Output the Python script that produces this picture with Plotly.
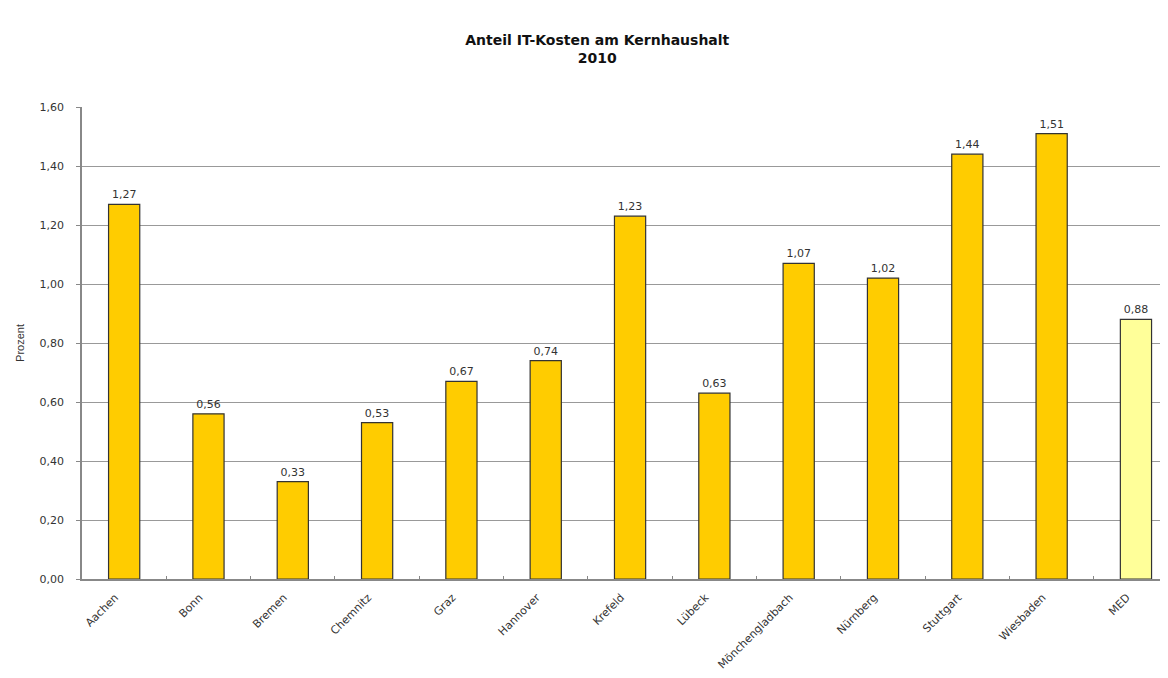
import plotly.graph_objects as go

categories = ["Aachen", "Bonn", "Bremen", "Chemnitz", "Graz", "Hannover", "Krefeld",
              "Lübeck", "Mönchengladbach", "Nürnberg", "Stuttgart", "Wiesbaden", "MED"]
values = [1.27, 0.56, 0.33, 0.53, 0.67, 0.74, 1.23, 0.63, 1.07, 1.02, 1.44, 1.51, 0.88]
bar_colors = ["#FFCC00"] * 12 + ["#FFFF99"]
y_ticks = [0, 0.2, 0.4, 0.6, 0.8, 1.0, 1.2, 1.4, 1.6]

FONT = "DejaVu Sans, Liberation Sans, Arial"

fig = go.Figure()
fig.add_trace(go.Bar(
    x=categories, y=values,
    marker=dict(color=bar_colors, line=dict(color="#333333", width=1.2)),
    width=0.37,
    text=values, texttemplate="%{y:.2f}", textposition="outside",
    textfont=dict(family=FONT, size=11, color="#333333"),
    cliponaxis=False,
))

fig.update_layout(
    width=1160, height=670,
    margin=dict(l=74, r=0, t=99, b=99),
    paper_bgcolor="white", plot_bgcolor="white",
    separators=",.",
    showlegend=False,
    title=dict(text="<b>Anteil IT-Kosten am Kernhaushalt<br>2010</b>",
               x=0.508, xanchor="center", y=0.945, yanchor="top",
               font=dict(family=FONT, size=14, color="#111111")),
    font=dict(family=FONT, size=11, color="#333333"),
)
fig.update_xaxes(
    range=[-0.5, 12.38], automargin=False,
    showline=True, linecolor="#888888", linewidth=1.5,
    tickangle=-45, ticks="inside", tickson="boundaries", ticklen=3, tickcolor="#888888",
    ticklabelshift=-9, ticklabelstandoff=6,
    tickfont=dict(family=FONT, size=11, color="#333333"),
    showgrid=False,
)
fig.update_yaxes(
    range=[0, 1.6], tickvals=y_ticks, tickformat=".2f", automargin=False,
    showline=True, linecolor="#888888", linewidth=1.5,
    ticks="outside", ticklen=4, tickcolor="#888888",
    ticklabelstandoff=10,
    showgrid=True, gridcolor="#999999", gridwidth=1.3,
    tickfont=dict(family=FONT, size=11, color="#333333"),
    title=dict(text="Prozent", font=dict(family="Liberation Sans, Arial", size=11, color="#333333"),
               standoff=13),
    zeroline=False,
)
fig.write_html("out.html")
